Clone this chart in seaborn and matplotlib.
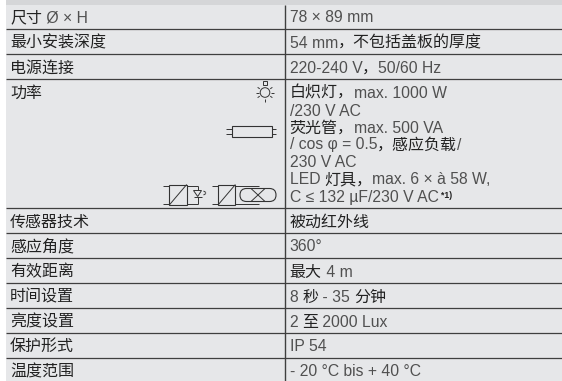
import re
import numpy as np
import matplotlib
matplotlib.use("Agg")
import matplotlib.pyplot as plt
from matplotlib.patches import Rectangle, Circle, Polygon, FancyBboxPatch
import seaborn as sns

left_labels = ["尺寸 Ø × H", "最小安装深度", "电源连接", "功率", "传感器技术", "感应角度",
               "有效距离", "时间设置", "亮度设置", "保护形式", "温度范围"]
left_base = [22.5, 47.7, 72.7, 97.7, 226.7, 251.5, 276.7, 301.7, 326.7, 351, 376]
right_lines = ["78 × 89 mm", "54 mm，不包括盖板的厚度", "220-240 V，50/60 Hz",
               "白炽灯，max. 1000 W", "/230 V AC", "荧光管，max. 500 VA",
               "/ cos φ = 0.5，感应负载/", "230 V AC", "LED 灯具，max. 6 × à 58 W,",
               "C ≤ 132 µF/230 V AC", "被动红外线", "360°", "最大 4 m", "8 秒 - 35 分钟",
               "2 至 2000 Lux", "IP 54", "- 20 °C bis + 40 °C"]
right_base = [21.7, 47.7, 72.7, 97.7, 115.5, 133, 149.5, 166.7, 184, 201.7,
              226.7, 251, 276.7, 301.7, 326.7, 350.7, 376]
rules = [29, 54, 79, 208, 233, 258, 283, 308, 333, 358]

BODY, BAND, LINE, LATIN, CJK = "#e6e7e9", "#d5d6d8", "#3f3f3f", "#505050", "#222222"
LAT_SZ, CJK_SZ = 11.3, 11.5

sns.set_theme(style="white")
plt.rcParams["font.family"] = ["Liberation Sans", "Noto Sans CJK SC", "DejaVu Sans"]
fig = plt.figure(figsize=(5.62, 3.81), dpi=100, facecolor="white")
W, H = 562, 381

def bg(x0, y0, x1, y1, color):
    a = fig.add_axes([x0 / W, 1 - y1 / H, (x1 - x0) / W, (y1 - y0) / H])
    sns.heatmap(np.zeros((1, 1)), cmap=[color], cbar=False, xticklabels=False,
                yticklabels=False, ax=a)

bg(6, 0, 562, 381, BODY)
bg(6, 0, 562, 4.5, BAND)

ax = fig.add_axes([0, 0, 1, 1])
ax.set_xlim(0, W)
ax.set_ylim(H, 0)
ax.axis("off")
ax.patch.set_alpha(0)

ax.hlines(rules, 6, 562, color=LINE, lw=0.9)
ax.vlines(285.3, 4.5, 381, color=LINE, lw=1.0)

rend = fig.canvas.get_renderer()
probe = "|"

def width(s, **kw):
    t = ax.text(0, 0, s + probe, **kw)
    w1 = t.get_window_extent(rend).width
    t.set_text(probe)
    w2 = t.get_window_extent(rend).width
    t.remove()
    return w1 - w2

def mixed(x, y, s):
    for seg in re.findall(r"[\u4e00-\u9fff，]+|[^\u4e00-\u9fff，]+", s):
        if re.match(r"[\u4e00-\u9fff，]", seg):
            kw = dict(family=["Noto Sans CJK SC"], fontsize=CJK_SZ, color=CJK, fontweight="medium")
        else:
            kw = dict(family=["Liberation Sans"], fontsize=LAT_SZ, color=LATIN)
        ax.text(x, y, seg, va="baseline", ha="left", **kw)
        x += width(seg, **kw)
    return x

for s, y in zip(left_labels, left_base):
    mixed(10, y, s)
for s, y in zip(right_lines, right_base):
    end = mixed(289.5, y, s)
    if s.startswith("C ≤"):
        ax.text(end + 3, y - 4, "*1)", family=["Liberation Sans"], fontsize=6.2,
                color=CJK, fontweight="bold", va="baseline")

ic = dict(color="#333333", lw=0.7, solid_capstyle="butt")

def L(xs, ys):
    ax.plot(xs, ys, **ic)

# bulb
cx, cy, r = 265, 92.5, 4.8
ax.add_patch(Circle((cx, cy), r, fill=False, ec="#333333", lw=0.7))
ax.add_patch(Rectangle((cx - 1.8, 81), 3.6, 3.6, fill=False, ec="#333333", lw=0.7))
for ang in [0, 35, 90, 145, 180, 215, 325]:
    a = np.deg2rad(ang)
    L([cx + (r + 1.6) * np.cos(a), cx + (r + 4.2) * np.cos(a)],
      [cy + (r + 1.6) * np.sin(a), cy + (r + 4.2) * np.sin(a)])

# fluorescent tube
ax.add_patch(Rectangle((231.7, 125.7), 40, 11, fill=False, ec="#333333", lw=0.8))
for y in (129, 133.5):
    L([226, 231.7], [y, y])
    L([271.7, 276], [y, y])

# LED driver
ax.add_patch(Rectangle((169.3, 184.5), 17.4, 20.5, fill=False, ec="#333333", lw=0.8))
L([169.3, 186.7], [205, 184.5])
for y in (185.5, 204):
    L([162.7, 169.3], [y, y])
    L([186.7, 197.7], [y, y])
L([197.7, 197.7], [185.5, 190])
L([197.7, 197.7], [197, 204])
ax.add_patch(Polygon([[193.5, 190.5], [201.5, 190.5], [197.7, 196.5]], closed=True,
                     fill=False, ec="#333333", lw=0.7))
L([193.5, 201.5], [196.8, 196.8])
L([203.5, 206], [191, 192.5])
L([203.5, 206], [195, 193.5])

# lamp driver
ax.add_patch(Rectangle((218, 184.5), 17.4, 20.5, fill=False, ec="#333333", lw=0.8))
L([218, 235.4], [205, 184.5])
for y in (185.5, 204):
    L([212.3, 218], [y, y])
    L([235.4, 258.5], [y, y])
ax.add_patch(FancyBboxPatch((240, 188.5), 36, 13, boxstyle="round,pad=0,rounding_size=6.5",
                            fill=False, ec="#333333", lw=0.8))
L([251, 265], [188.5, 201.5])
L([251, 265], [201.5, 188.5])

fig.savefig("out.png", dpi=100)
